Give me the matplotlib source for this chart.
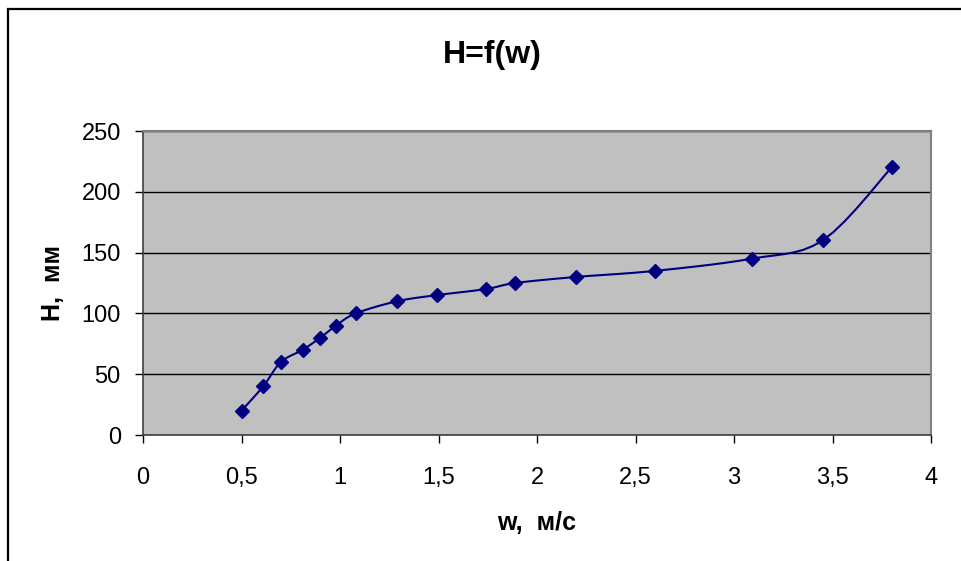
import numpy as np
import matplotlib
matplotlib.use("Agg")
import matplotlib.pyplot as plt
from matplotlib.patches import Rectangle
from matplotlib.ticker import FuncFormatter

# data
w = [0.5, 0.61, 0.70, 0.81, 0.90, 0.98, 1.08, 1.29, 1.49, 1.74, 1.89, 2.2, 2.6, 3.09, 3.45, 3.8]
H = [20, 40, 60, 70, 80, 90, 100, 110, 115, 120, 125, 130, 135, 145, 160, 220]
x_ticks = [0, 0.5, 1, 1.5, 2, 2.5, 3, 3.5, 4]
y_ticks = [0, 50, 100, 150, 200, 250]

navy = '#000080'
plt.rcParams['font.family'] = ['Liberation Sans', 'DejaVu Sans']


def smooth(xs, ys, n=30):
    # excel-like smoothed line: catmull-rom bezier through the points
    p = np.column_stack([xs, ys]).astype(float)
    p = np.vstack([p[0], p, p[-1]])
    out = []
    t = np.linspace(0, 1, n)[:, None]
    for i in range(1, len(p) - 2):
        p0, p1, p2, p3 = p[i - 1], p[i], p[i + 1], p[i + 2]
        c1 = p1 + (p2 - p0) / 6
        c2 = p2 - (p3 - p1) / 6
        seg = ((1 - t) ** 3) * p1 + 3 * ((1 - t) ** 2) * t * c1 + 3 * (1 - t) * t ** 2 * c2 + t ** 3 * p2
        out.append(seg)
    out = np.vstack(out)
    return out[:, 0], out[:, 1]


fig = plt.figure(figsize=(9.61, 5.61), dpi=100)
W, Hh = 961, 561

# outer chart border (only left and top visible)
fig.patches.append(Rectangle((8 / W, -0.1), 1.2, (561 - 9) / Hh + 0.1, transform=fig.transFigure,
                             fill=False, edgecolor='black', linewidth=1.6))

ax = fig.add_axes([143 / W, (561 - 435) / Hh, (931 - 143) / W, (435 - 131) / Hh])
ax.set_facecolor('#C0C0C0')

sx, sy = smooth(w, H, n=8)
ax.plot(sx, sy, color=navy, lw=1.5, zorder=3)
ax.plot(w, H, linestyle='none', marker='D', markersize=7.5, color=navy, zorder=4)

ax.set_xlim(0, 4)
ax.set_ylim(0, 250)
ax.set_xticks(x_ticks)
ax.set_yticks(y_ticks)
fmt = FuncFormatter(lambda v, pos: ('%g' % v).replace('.', ','))
ax.xaxis.set_major_formatter(fmt)
ax.yaxis.set_major_formatter(fmt)
ax.yaxis.grid(True, color='black', lw=1.0)
ax.set_axisbelow(True)

for s in ['top', 'right']:
    ax.spines[s].set_color('#808080')
    ax.spines[s].set_linewidth(1.5)
for s in ['left', 'bottom']:
    ax.spines[s].set_color('#404040')
    ax.spines[s].set_linewidth(1.2)

ax.tick_params(direction='out', length=6, width=1, color='black', labelsize=17, pad=10)
ax.tick_params(axis='x', pad=17)

ax.set_xlabel('w,  м/с', fontsize=18, fontweight='bold', labelpad=16)
ax.set_ylabel('H,  мм', fontsize=18, fontweight='bold', labelpad=12)
fig.text(492 / W, 1 - 55 / Hh, 'H=f(w)', fontsize=23, fontweight='bold', ha='center', va='center')

fig.savefig('out.png', dpi=100)
